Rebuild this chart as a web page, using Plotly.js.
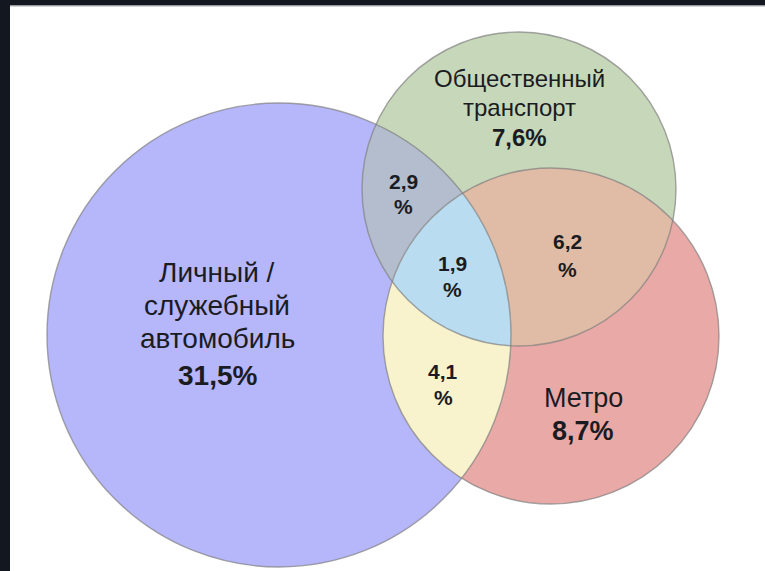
<!DOCTYPE html>
<html>
<head>
<meta charset="utf-8">
<script src="https://cdn.plot.ly/plotly-3.0.1.min.js"></script>
<style>html,body{margin:0;padding:0;background:#fff;}#chart{width:765px;height:571px;}</style>
</head>
<body>
<div id="chart"></div>
<script>
// ---- data ----
const setNames = [['Личный /', 'служебный', 'автомобиль'], ['Общественный', 'транспорт'], ['Метро']];
const setValues = [31.5, 7.6, 8.7];
const overlapSets = [[0, 1], [1, 2], [0, 2], [0, 1, 2]];
const overlapValues = [2.9, 6.2, 4.1, 1.9];

// ---- geometry / style (layout only) ----
const circleCx = [279, 519, 551];
const circleCy = [335, 189, 336];
const circleR = [232, 157, 168];
const circleFill = ['#b6b6fb', '#c7d8ba', '#e9aaa7'];
const overlapFill = ['#b3bdce', '#e0bca6', '#f8f3cd', '#badcf1'];
// [x, first line y, line step, value y, font size]
const setLabelPos = [[217, 272, 33, 375, 28], [519, 78, 29, 137, 24], [583, 398, 0, 431, 27]];
// [x, number y, percent y]
const overlapLabelPos = [[403, 181, 206], [567, 241, 269], [443, 371, 397], [452, 263, 289]];
const FONT = 'Liberation Sans, Arial, sans-serif';
const TXT = '#1b1c22';

function fmt(v) { return v.toFixed(1).replace('.', ','); }

function inside(px, py, i) {
  const dx = px - circleCx[i], dy = py - circleCy[i];
  return dx * dx + dy * dy <= circleR[i] * circleR[i] + 0.5;
}

function regionPath(set) {
  const pts = [];
  const N = 1440;
  set.forEach(i => {
    for (let k = 0; k < N; k++) {
      const a = 2 * Math.PI * k / N;
      const px = circleCx[i] + circleR[i] * Math.cos(a);
      const py = circleCy[i] + circleR[i] * Math.sin(a);
      if (set.every(j => j === i || inside(px, py, j))) pts.push([px, py]);
    }
  });
  let mx = 0, my = 0;
  pts.forEach(p => { mx += p[0]; my += p[1]; });
  mx /= pts.length; my /= pts.length;
  pts.sort((p, q) => Math.atan2(p[1] - my, p[0] - mx) - Math.atan2(q[1] - my, q[0] - mx));
  return 'M' + pts.map(p => p[0].toFixed(2) + ',' + p[1].toFixed(2)).join('L') + 'Z';
}

const shapes = [];
// frame
shapes.push({type: 'rect', xref: 'x', yref: 'y', x0: 0, x1: 765, y0: 0, y1: 5.5, fillcolor: '#131720', line: {width: 0}, layer: 'above'});
shapes.push({type: 'rect', xref: 'x', yref: 'y', x0: 0, x1: 10, y0: 0, y1: 571, fillcolor: '#131720', line: {width: 0}, layer: 'above'});
shapes.push({type: 'line', xref: 'x', yref: 'y', x0: 10, x1: 765, y0: 6, y1: 6, line: {color: '#a9abae', width: 1}, layer: 'above'});

// base circles
for (let i = 0; i < 3; i++) {
  shapes.push({type: 'circle', xref: 'x', yref: 'y',
    x0: circleCx[i] - circleR[i], x1: circleCx[i] + circleR[i],
    y0: circleCy[i] - circleR[i], y1: circleCy[i] + circleR[i],
    fillcolor: circleFill[i], line: {width: 0}, layer: 'below'});
}
// overlap regions
overlapSets.forEach((s, k) => {
  shapes.push({type: 'path', xref: 'x', yref: 'y', path: regionPath(s),
    fillcolor: overlapFill[k], line: {width: 0}, layer: 'below'});
});
// outlines
for (let i = 0; i < 3; i++) {
  shapes.push({type: 'circle', xref: 'x', yref: 'y',
    x0: circleCx[i] - circleR[i], x1: circleCx[i] + circleR[i],
    y0: circleCy[i] - circleR[i], y1: circleCy[i] + circleR[i],
    fillcolor: 'rgba(0,0,0,0)', line: {color: 'rgba(128,128,128,0.7)', width: 1.4}, layer: 'below'});
}

const annotations = [];
function addText(x, y, text, size) {
  annotations.push({x: x, y: y, xref: 'x', yref: 'y', text: text, showarrow: false,
    xanchor: 'center', yanchor: 'middle', align: 'center',
    font: {family: FONT, size: size, color: TXT}});
}
setNames.forEach((lines, i) => {
  const p = setLabelPos[i];
  lines.forEach((ln, j) => addText(p[0], p[1] + j * p[2], ln, p[4]));
  addText(p[0], p[3], '<b>' + fmt(setValues[i]) + '%</b>', p[4]);
});
overlapValues.forEach((v, k) => {
  const p = overlapLabelPos[k];
  addText(p[0], p[1], '<b>' + fmt(v) + '</b>', 21);
  addText(p[0], p[2], '<b>%</b>', 21);
});

const layout = {
  width: 765, height: 571,
  margin: {l: 0, r: 0, t: 0, b: 0, pad: 0},
  paper_bgcolor: '#ffffff', plot_bgcolor: '#ffffff',
  xaxis: {range: [0, 765], visible: false, fixedrange: true},
  yaxis: {range: [571, 0], visible: false, fixedrange: true},
  showlegend: false,
  shapes: shapes,
  annotations: annotations
};

Plotly.newPlot('chart', [{x: [], y: [], type: 'scatter', mode: 'markers', hoverinfo: 'skip'}], layout, {staticPlot: true, displayModeBar: false});
</script>
</body>
</html>
